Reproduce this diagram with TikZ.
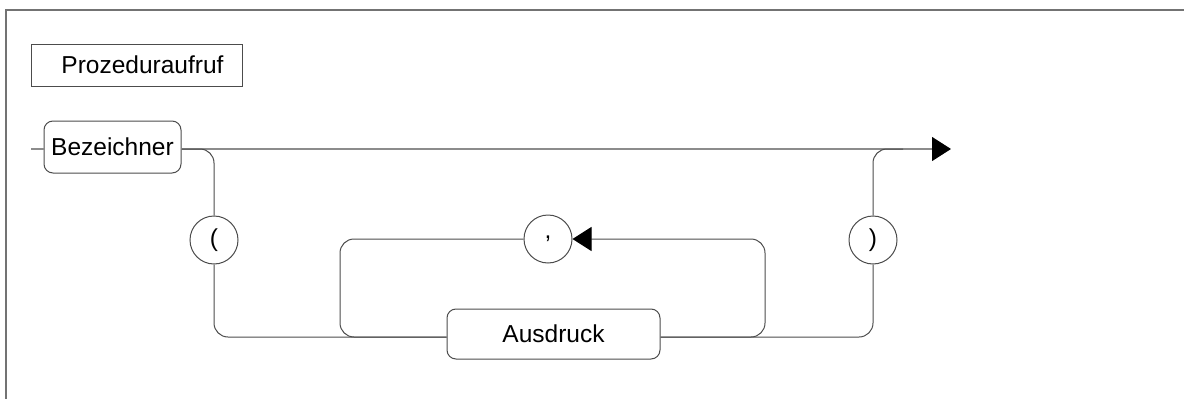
\documentclass[tikz,border=0pt]{standalone}
\usepackage{fontspec}
\setmainfont{Liberation Sans}
\usetikzlibrary{arrows.meta,calc}
\begin{document}
\begin{tikzpicture}[x=1pt,y=-1pt,
  every node/.style={font=\fontsize{24.5}{28}\selectfont},
  rbox/.style={draw=black!70, line width=1pt, rounded corners=9pt, inner sep=0pt},
  term/.style={draw=black!70, line width=1pt, circle, minimum size=48pt, inner sep=0pt},
  track/.style={draw=black!70, line width=1pt, rounded corners=14pt},
  mainline/.style={draw=black!45, line width=1.2pt},
  tip/.style={-{Triangle[length=19pt,width=24pt,color=black,fill=black]}}
]
\useasboundingbox (0,0) rectangle (1184,399);
% frame
\draw[black!55, line width=2pt] (6,399) -- (6,10) -- (1184,10);
% title
\node[draw=black!70, line width=1pt, minimum width=211pt, minimum height=42pt, inner sep=0pt] (title) at (136.5,65) {\hspace*{12pt}Prozeduraufruf};
% nodes
\node[rbox, minimum width=137pt, minimum height=52pt] (bez) at (112.5,147) {Bezeichner};
\node[term] (lp) at (214,240) {(};
\node[term] (comma) at (548,239) {,};
\node[term] (rp) at (873,240) {)};
\node[rbox, minimum width=213pt, minimum height=50pt] (ausd) at (553.5,334) {Ausdruck};
\coordinate (start) at (31,149);
\coordinate (end) at (951,149);
\coordinate (bl) at (340,337);
\coordinate (br) at (765,337);
% main line
\draw[mainline] (start) -- (bez.west |- start);
\draw[mainline, tip] (bez.east |- start) -- (end);
% left branch
\draw[track] (bez.east |- start) -| (lp.north);
\draw[track] (lp.south) |- (ausd.west |- bl);
% right branch
\draw[track] (ausd.east |- br) -| (rp.south);
\draw[track] (rp.north) |- ($(rp.north |- end)+(30,0)$);
% loop
\draw[track] (comma.west) -| (bl) -- (ausd.west |- bl);
\draw[track, tip] (ausd.east |- br) -| ($(br |- comma)$) -- (comma.east);
\end{tikzpicture}
\end{document}
